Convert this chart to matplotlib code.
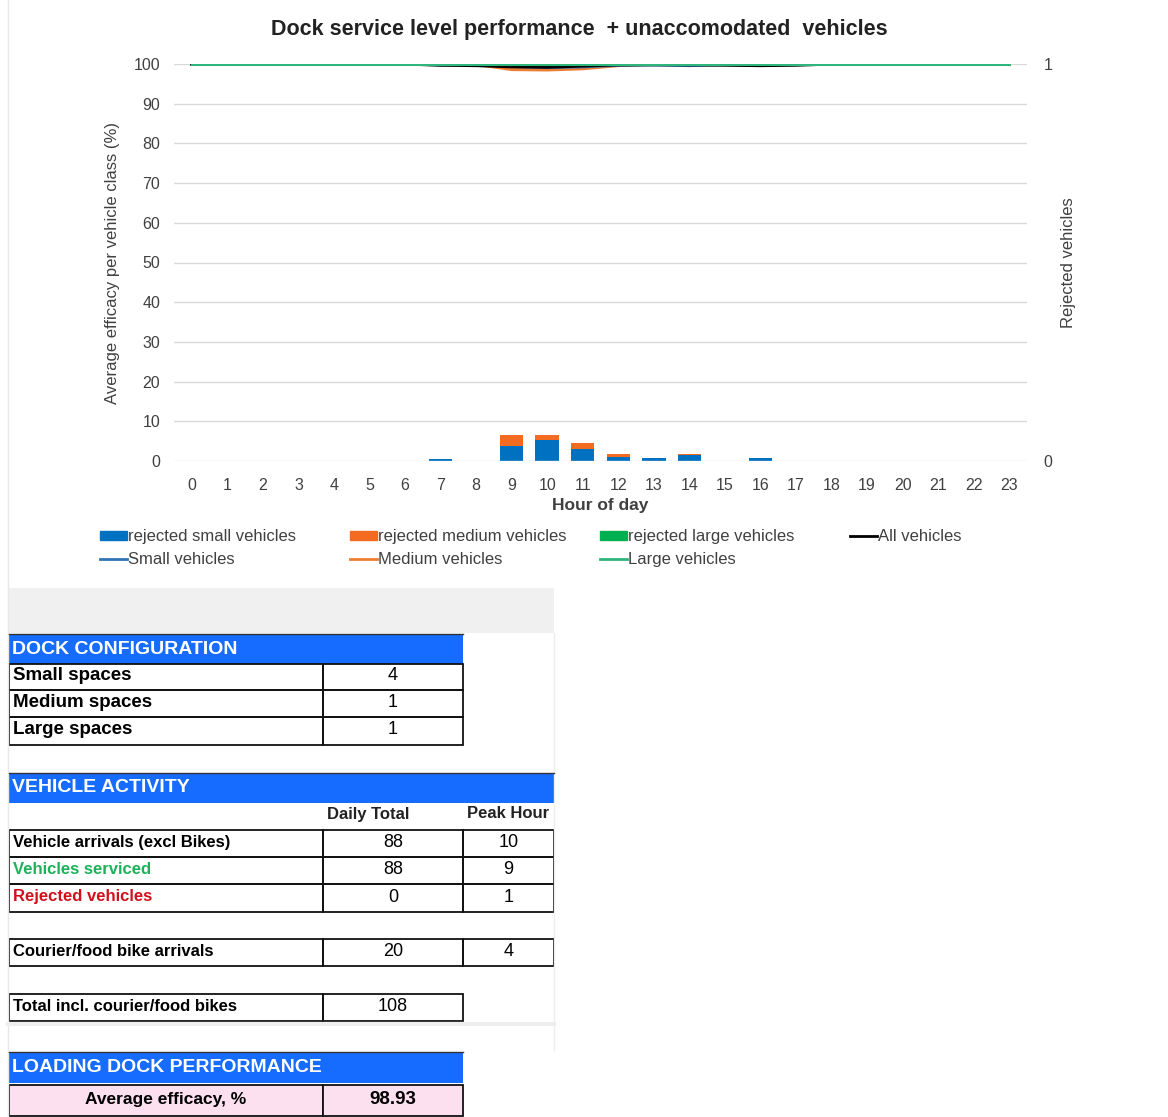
import matplotlib
matplotlib.use("Agg")
import matplotlib.pyplot as plt
from matplotlib.patches import Rectangle, Patch
from matplotlib.lines import Line2D

plt.rcParams["font.family"] = ["Liberation Sans", "DejaVu Sans"]

# chart data
hours = list(range(24))
rej_small = [0, 0, 0, 0, 0, 0, 0, 0.005, 0, 0.039, 0.053, 0.029, 0.011, 0.007,
             0.014, 0, 0.007, 0, 0, 0, 0, 0, 0, 0]
rej_medium = [0, 0, 0, 0, 0, 0, 0, 0, 0, 0.027, 0.013, 0.017, 0.007, 0,
              0.003, 0, 0, 0, 0, 0, 0, 0, 0, 0]
rej_large = [0] * 24
eff_all = [100, 100, 100, 100, 100, 100, 100, 99.7, 99.6, 99.3, 99.2, 99.5,
           99.8, 99.8, 99.8, 99.7, 99.6, 99.7, 100, 100, 100, 100, 100, 100]
eff_small = [100, 100, 100, 100, 100, 100, 100, 99.8, 100, 99.4, 99.1, 99.3,
             99.7, 99.8, 99.6, 99.9, 99.7, 100, 100, 100, 100, 100, 100, 100]
eff_medium = [100, 100, 100, 100, 100, 100, 100, 100, 99.9, 98.6, 98.5, 98.8,
              99.6, 100, 100, 100, 100, 100, 100, 100, 100, 100, 100, 100]
eff_large = [100] * 24

# table data
dock_labels = ["Small spaces", "Medium spaces", "Large spaces"]
dock_values = [4, 1, 1]
activity_labels = ["Vehicle arrivals (excl Bikes)", "Vehicles serviced", "Rejected vehicles"]
activity_colors = ["black", "#1db25a", "#d0101a"]
daily_total = [88, 88, 0]
peak_hour = [10, 9, 1]
bike_label = "Courier/food bike arrivals"
bike_daily = 20
bike_peak = 4
total_label = "Total incl. courier/food bikes"
total_incl = 108
avg_efficacy = 98.93

C_SMALL = "#0070c0"
C_MED = "#f26b21"
C_LARGE = "#00b050"
C_SMALL_LINE = "#2e75b6"
C_MED_LINE = "#ed7d31"
C_LARGE_LINE = "#2fb67c"
BLUE_HDR = "#166cff"
GRAY_TXT = "#404040"

W, H = 1168, 1117
fig = plt.figure(figsize=(W / 100, H / 100), dpi=100)

# ---- chart ----
ax = fig.add_axes([174 / W, 1 - 461 / H, (1027 - 174) / W, (461 - 64) / H])
ax2 = ax.twinx()
ax.set_zorder(ax2.get_zorder() + 1)
ax.patch.set_visible(False)

bottom2 = [s + m for s, m in zip(rej_small, rej_medium)]
ax2.bar(hours, rej_small, width=0.66, color=C_SMALL)
ax2.bar(hours, rej_medium, width=0.66, bottom=rej_small, color=C_MED)
ax2.bar(hours, rej_large, width=0.66, bottom=bottom2, color=C_LARGE)
ax2.set_ylim(0, 1)
ax2.set_yticks([0, 1])

ax.plot(hours, eff_medium, color=C_MED_LINE, lw=2.2)
ax.plot(hours, eff_small, color=C_SMALL_LINE, lw=2.2)
ax.plot(hours, eff_all, color="black", lw=2.2)
ax.plot(hours, eff_large, color=C_LARGE_LINE, lw=2.2)

ax.set_ylim(0, 100)
ax.set_xlim(-0.5, 23.5)
ax.set_yticks(range(0, 101, 10))
ax.set_xticks(hours)
ax.grid(axis="y", color="#d9d9d9", lw=1)
ax.set_axisbelow(True)
for a in (ax, ax2):
    for s in a.spines.values():
        s.set_visible(False)
ax.tick_params(axis="both", length=0, labelsize=11.5, colors=GRAY_TXT)
ax.tick_params(axis="y", pad=10)
ax.tick_params(axis="x", pad=12)
ax2.tick_params(axis="y", length=0, labelsize=11.5, colors=GRAY_TXT, pad=12)
ax.set_ylabel("Average efficacy per vehicle class (%)", fontsize=12, color=GRAY_TXT, labelpad=10)
ax2.set_ylabel("Rejected vehicles", fontsize=12, color=GRAY_TXT, labelpad=6)
ax.set_xlabel("Hour of day", fontsize=12.5, fontweight="bold", color=GRAY_TXT, labelpad=4)
fig.text(579 / W, 1 - 29 / H, "Dock service level performance  + unaccomodated  vehicles",
         ha="center", va="center", fontsize=15.5, fontweight="bold", color="#222222")

# legend, one legend per column
cols = [
    [(Patch(color=C_SMALL), "rejected small vehicles"), (Line2D([], [], color=C_SMALL_LINE, lw=2), "Small vehicles")],
    [(Patch(color=C_MED), "rejected medium vehicles"), (Line2D([], [], color=C_MED_LINE, lw=2), "Medium vehicles")],
    [(Patch(color=C_LARGE), "rejected large vehicles"), (Line2D([], [], color=C_LARGE_LINE, lw=2), "Large vehicles")],
    [(Line2D([], [], color="black", lw=2), "All vehicles")],
]
for i, col in enumerate(cols):
    leg = fig.legend([h for h, _ in col], [l for _, l in col],
                     loc="upper left", bbox_to_anchor=((92 + 250 * i) / W, 1 - 521 / H),
                     frameon=False, fontsize=12, handlelength=1.6, handleheight=0.5,
                     handletextpad=0.05, labelspacing=0.45, borderpad=0)
    for t in leg.get_texts():
        t.set_color(GRAY_TXT)

# ---- tables ----
tab = fig.add_axes([0, 0, 1, 1])
tab.set_xlim(0, W)
tab.set_ylim(H, 0)
tab.axis("off")
tab.set_zorder(-5)

tab.plot([8, 8], [0, H], color="#e8e8e8", lw=1)
tab.add_patch(Rectangle((8, 588), 546, 45, color="#f0f0f0", lw=0))
tab.plot([554, 554], [633, 1050], color="#eeeeee", lw=1)
tab.plot([8, 554], [1024, 1024], color="#eeeeee", lw=3)


def header(x0, x1, y0, y1, text):
    tab.add_patch(Rectangle((x0, y0), x1 - x0, y1 - y0, color=BLUE_HDR, lw=0))
    tab.plot([x0, x1], [y0, y0], color="#333333", lw=1)
    tab.text(x0 + 3, (y0 + y1) / 2, text, color="white", fontsize=14,
             fontweight="bold", va="center", ha="left")


def cell(x0, x1, y0, y1, text, ha="center", color="black", weight="normal", size=12.5, fill=None):
    tab.add_patch(Rectangle((x0, y0), x1 - x0, y1 - y0, facecolor=fill if fill else "none",
                            edgecolor="#111111", lw=1.3))
    tx = x0 + 4 if ha == "left" else (x0 + x1) / 2
    tab.text(tx, (y0 + y1) / 2 - 1, str(text), ha=ha, va="center", color=color,
             fontweight=weight, fontsize=size)


# dock configuration
header(9, 463, 634, 664, "DOCK CONFIGURATION")
row_y = [664, 690, 717, 745]
for i, (lab, val) in enumerate(zip(dock_labels, dock_values)):
    cell(9, 323, row_y[i], row_y[i + 1], lab, ha="left", weight="bold", size=13.5)
    cell(323, 463, row_y[i], row_y[i + 1], val, size=13)

# vehicle activity
header(9, 554, 773, 803, "VEHICLE ACTIVITY")
tab.text(368, 814, "Daily Total", ha="center", va="center", fontsize=12, fontweight="bold", color="#222222")
tab.text(508, 814, "Peak Hour", ha="center", va="center", fontsize=12, fontweight="bold", color="#222222")
row_y = [830, 857, 884, 912]
for i, lab in enumerate(activity_labels):
    cell(9, 323, row_y[i], row_y[i + 1], lab, ha="left", color=activity_colors[i], weight="bold", size=12)
    cell(323, 463, row_y[i], row_y[i + 1], daily_total[i], size=13)
    cell(463, 554, row_y[i], row_y[i + 1], peak_hour[i], size=13)

cell(9, 323, 939, 966, bike_label, ha="left", weight="bold", size=12)
cell(323, 463, 939, 966, bike_daily, size=13)
cell(463, 554, 939, 966, bike_peak, size=13)

cell(9, 323, 994, 1021, total_label, ha="left", weight="bold", size=12)
cell(323, 463, 994, 1021, total_incl, size=13)

# loading dock performance
header(9, 463, 1052, 1083, "LOADING DOCK PERFORMANCE")
cell(9, 323, 1085, 1116, "Average efficacy, %", weight="bold", size=12.5, fill="#fde0f0")
cell(323, 463, 1085, 1116, f"{avg_efficacy:.2f}", weight="bold", size=13.5, fill="#fde0f0")

fig.savefig("out.png", dpi=100)
